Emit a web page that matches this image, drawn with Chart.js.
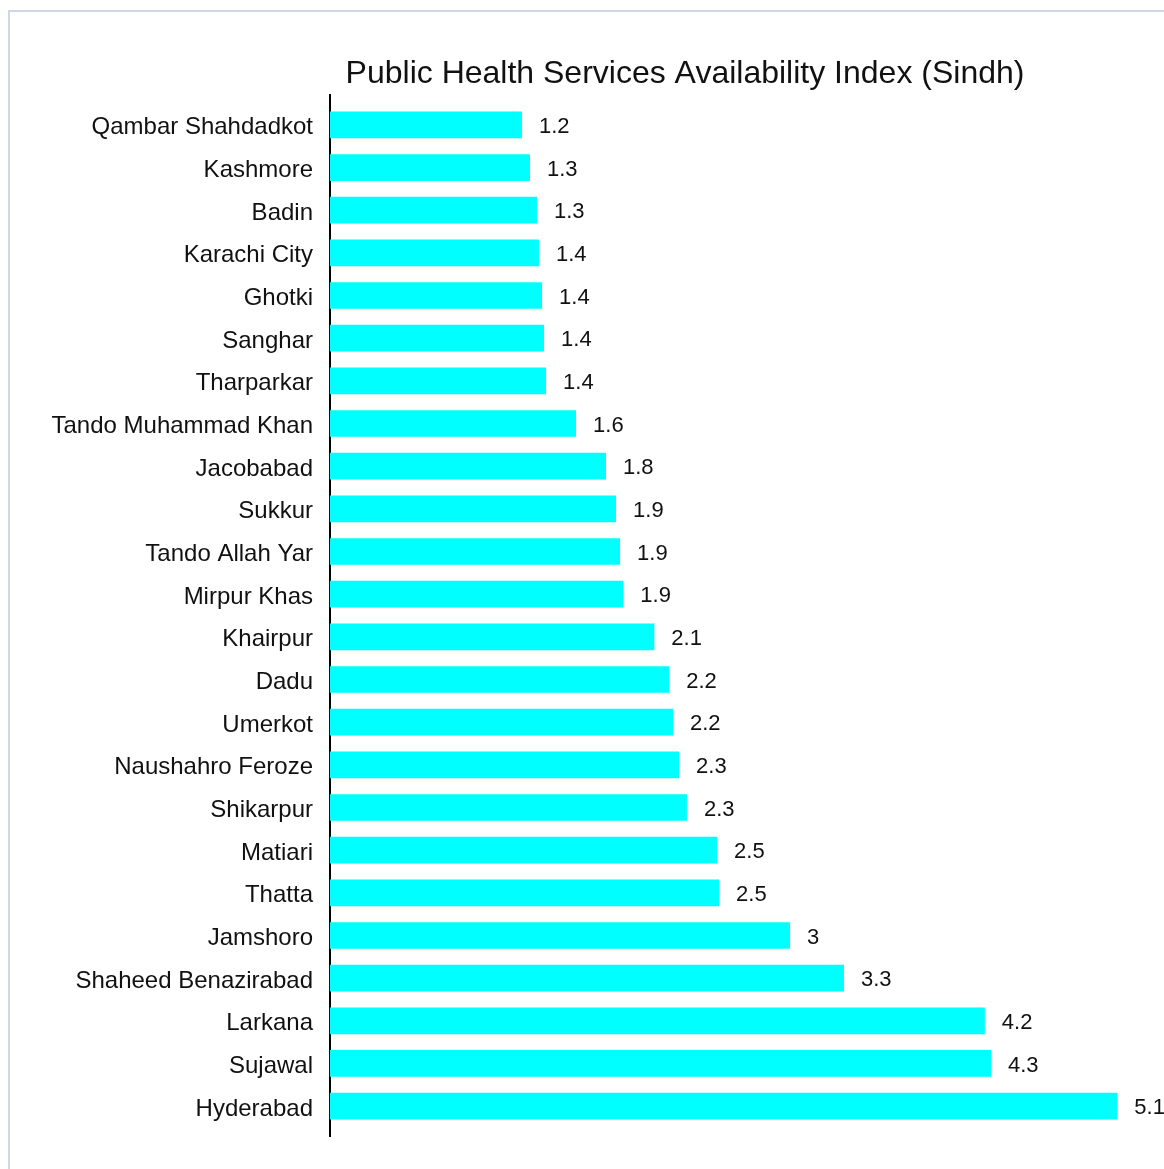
<!DOCTYPE html>
<html>
<head>
<meta charset="utf-8">
<script src="https://cdn.jsdelivr.net/npm/chart.js@4.4.1/dist/chart.umd.min.js"></script>
<style>
    html, body { margin: 0; padding: 0; background: #fff; }
    #frame {
        position: absolute; left: 8px; top: 10px;
        width: 1200px; height: 1200px;
        border: 2px solid #d0d9e3;
    }
    #wrap { position: absolute; left: 0; top: 0; width: 1164px; height: 1169px; }
</style>
</head>
<body>
<div id="frame"></div>
<div id="wrap"><canvas id="indexChart" width="1164" height="1169"></canvas></div>
<script>
// districts, top to bottom
const districts = [
    'Qambar Shahdadkot', 'Kashmore', 'Badin', 'Karachi City', 'Ghotki', 'Sanghar',
    'Tharparkar', 'Tando Muhammad Khan', 'Jacobabad', 'Sukkur', 'Tando Allah Yar',
    'Mirpur Khas', 'Khairpur', 'Dadu', 'Umerkot', 'Naushahro Feroze', 'Shikarpur',
    'Matiari', 'Thatta', 'Jamshoro', 'Shaheed Benazirabad', 'Larkana', 'Sujawal', 'Hyderabad'
];

// index values
const indexValues = [
    1.243, 1.295, 1.34, 1.353, 1.373, 1.386,
    1.399, 1.593, 1.787, 1.852, 1.878,
    1.899, 2.10, 2.196, 2.221, 2.26, 2.311,
    2.506, 2.519, 2.979, 3.328, 4.24, 4.28, 5.098
];

const chartTitle = 'Public Health Services Availability Index (Sindh)';
const fontFamily = "'Liberation Sans', Arial, Helvetica, sans-serif";

// 1.0 -> "1", 2.5 -> "2.5"
function fmt(v) {
    return String(Number(v.toFixed(1)));
}

// value labels to the right of each bar
const valueLabels = {
    id: 'valueLabels',
    afterDatasetsDraw(chart) {
        const ctx = chart.ctx;
        const meta = chart.getDatasetMeta(0);
        ctx.save();
        ctx.font = '22px ' + fontFamily;
        ctx.fillStyle = '#111';
        ctx.textAlign = 'left';
        ctx.textBaseline = 'middle';
        meta.data.forEach((bar, i) => {
            ctx.fillText(fmt(indexValues[i]), bar.x + 17, bar.y + 2);
        });
        ctx.restore();
    }
};

// title centred over the panel like the original
const titleText = {
    id: 'titleText',
    afterDraw(chart) {
        const ctx = chart.ctx;
        ctx.save();
        ctx.font = '32px ' + fontFamily;
        ctx.fillStyle = '#111';
        ctx.textAlign = 'center';
        ctx.textBaseline = 'alphabetic';
        ctx.fillText(chartTitle, 685, 83);
        ctx.restore();
    }
};

const ctx = document.getElementById('indexChart').getContext('2d');

new Chart(ctx, {
    type: 'bar',
    data: {
        datasets: [{
            label: 'Index',
            data: indexValues.map((v, i) => ({ x: v, y: i })),
            backgroundColor: '#00ffff',
            borderWidth: 0,
            barPercentage: 0.626,
            categoryPercentage: 1
        }]
    },
    options: {
        indexAxis: 'y',
        responsive: false,
        animation: false,
        layout: { padding: { left: 10, right: 0, top: 95, bottom: 33 } },
        plugins: {
            legend: { display: false },
            tooltip: { enabled: false },
            title: { display: false }
        },
        scales: {
            x: {
                type: 'linear',
                min: 0,
                max: 5.4,
                display: false
            },
            y: {
                type: 'linear',
                reverse: true,
                offset: false,
                min: -0.7,
                max: districts.length - 0.3,
                afterBuildTicks: (scale) => {
                    scale.ticks = districts.map((d, i) => ({ value: i }));
                },
                afterFit: (scale) => { scale.width = 320; },
                grid: { display: false, drawTicks: false, offset: false },
                border: { display: true, color: '#000', width: 2 },
                ticks: {
                    autoSkip: false,
                    padding: 17,
                    labelOffset: 3,
                    color: '#111',
                    font: { family: fontFamily, size: 24 },
                    callback: (v) => districts[v]
                }
            }
        }
    },
    plugins: [valueLabels, titleText]
});
</script>
</body>
</html>
